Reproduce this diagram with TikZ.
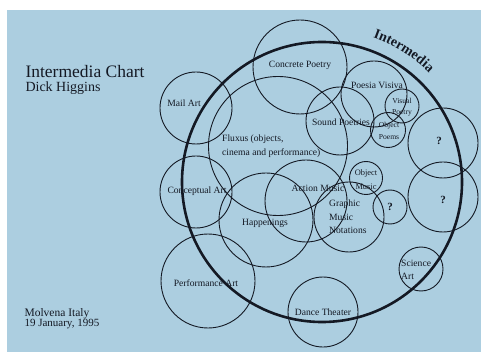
\documentclass[tikz,border=0pt]{standalone}
\usepackage{fontspec}
\setmainfont{Liberation Serif}
\usetikzlibrary{calc,decorations.text}
\definecolor{paper}{RGB}{172,206,224}
\definecolor{ink}{RGB}{20,25,36}

\begin{document}
\begin{tikzpicture}[x=1pt,y=-1pt,
    ring/.style={draw=ink,circle,line width=0.9pt,inner sep=0pt,outer sep=0pt},
    lbl/.style={text=ink,font=\fontsize{9.6}{13.5}\selectfont,inner sep=0pt},
    tiny/.style={text=ink,font=\fontsize{7.6}{12.5}\selectfont,inner sep=0pt,align=center},
    qmark/.style={text=ink,font=\fontsize{11}{12}\selectfont\bfseries,inner sep=0pt}]
  \useasboundingbox (0,0) rectangle (481,352);
  \fill[white] (0,0) rectangle (481,352);
  \fill[paper] (7,10) rectangle (481,352);

  \node[ring,minimum size=94pt] (concrete) at (300,67) {};
  \node[ring,minimum size=72pt] (mailart) at (196,108) {};
  \node[ring,minimum size=139pt] (fluxus) at (278,146) {};
  \node[ring,minimum size=68pt] (sound) at (340,121) {};
  \node[ring,minimum size=66pt] (poesia) at (374,94) {};
  \node[ring,minimum size=34pt] (visual) at (402,106) {};
  \node[ring,minimum size=35pt] (objpoems) at (388,130) {};
  \node[ring,minimum size=70pt] (qtop) at (443,143) {};
  \node[ring,minimum size=70pt] (qmid) at (443,197) {};
  \node[ring,minimum size=34pt] (qsmall) at (390,207) {};
  \node[ring,minimum size=33pt] (objmusic) at (366,178) {};
  \node[ring,minimum size=70pt] (graphic) at (349,217) {};
  \node[ring,minimum size=82pt] (action) at (306,201) {};
  \node[ring,minimum size=94pt] (happen) at (266,220) {};
  \node[ring,minimum size=72pt] (concept) at (196,192) {};
  \node[ring,minimum size=94pt] (perform) at (208,281) {};
  \node[ring,minimum size=70pt] (dance) at (323,312) {};
  \node[ring,minimum size=44pt] (science) at (421,269) {};
  \node[ring,line width=2.6pt,minimum size=280pt] (inter) at (322,182) {};

  \node[lbl] (concretelbl) at (300,65) {Concrete Poetry};
  \node[lbl] (mailartlbl) at (184,103) {Mail Art};
  \node[lbl,anchor=west,align=left] (fluxuslbl) at (222,146) {Fluxus (objects,\\cinema and performance)};
  \node[lbl] (soundlbl) at (341,122) {Sound Poetries};
  \node[lbl] (poesialbl) at (377,85) {Poesia Visiva};
  \node[tiny] (visuallbl) at (402,107) {Visual\\[-2pt]Poetry};
  \node[tiny] (objpoemslbl) at (389,131) {Object\\Poems};
  \node[tiny,font=\fontsize{8.4}{14}\selectfont] (objmusiclbl) at (366,180) {Object\\Music};
  \node[qmark] (qtoplbl) at (439,141) {?};
  \node[qmark] (qmidlbl) at (443,200) {?};
  \node[qmark] (qsmalllbl) at (390,207) {?};
  \node[lbl,anchor=west,align=left] (graphiclbl) at (329,217) {Graphic\\Music\\Notations};
  \node[lbl] (actionlbl) at (318,188) {Action Music};
  \node[lbl] (happenlbl) at (265,223) {Happenings};
  \node[lbl] (conceptlbl) at (197,191) {Conceptual Art};
  \node[lbl] (performlbl) at (206,283) {Performance Art};
  \node[lbl] (dancelbl) at (323,312) {Dance Theater};
  \node[lbl,anchor=west,align=left] (sciencelbl) at (401,270) {Science\\Art};

  \path[decorate,decoration={text along path,text align=center,
      text={|\fontsize{14}{15}\selectfont\bfseries\color{ink}|Intermedia}}]
    ($(inter.center)+(-75:153)$) arc[start angle=-75,end angle=-41,radius=153];

  \node[anchor=base west,text=ink,font=\fontsize{17.5}{20}\selectfont] (title) at (22,78) {Intermedia Chart};
  \node[anchor=base west,text=ink,font=\fontsize{14}{16}\selectfont] (author) at (22,92) {Dick Higgins};
  \node[anchor=base west,text=ink,font=\fontsize{11.5}{13}\selectfont] (place) at (21,316) {Molvena Italy};
  \node[anchor=base west,text=ink,font=\fontsize{11}{13}\selectfont] (date) at (21,326.5) {19 January, 1995};
\end{tikzpicture}
\end{document}
